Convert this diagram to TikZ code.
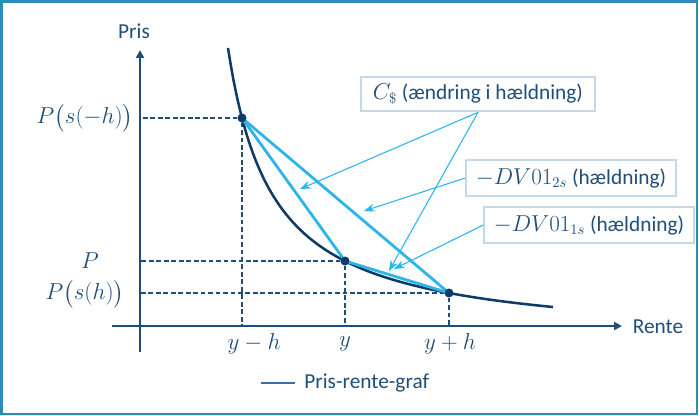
\documentclass[tikz,border=0pt]{standalone}
\usepackage{amsmath}
\usepackage{fontspec}
\setmainfont{Carlito}
\usetikzlibrary{arrows.meta,positioning,calc}
\definecolor{navy}{HTML}{1F4E79}
\definecolor{curv}{HTML}{0F3B68}
\definecolor{lblue}{HTML}{2BB5E8}
\definecolor{boxb}{HTML}{C5D8EA}
\definecolor{frm}{HTML}{2E8BB8}
\definecolor{legc}{HTML}{3F6F9F}
\tikzset{
  frm/.style={draw=frm,line width=2.2pt},
  axs/.style={draw=navy,line width=2.2pt,-{Triangle[length=6pt,width=6pt]}},
  gde/.style={draw=navy,line width=.9pt,dash pattern=on 3.6pt off 2pt},
  crv/.style={draw=curv,line width=1.9pt},
  crd/.style={draw=lblue,line width=2.1pt},
  ptr/.style={draw=lblue,line width=.8pt,-{Stealth[length=8pt,width=6pt]}},
  dot/.style={circle,fill=curv,inner sep=0pt,minimum size=6.5pt},
  lbl/.style={text=navy,font=\fontsize{16}{19}\selectfont},
  box/.style={lbl,draw=boxb,line width=1.5pt,fill=white,inner sep=3pt},
  leg/.style={draw=legc,line width=2pt},
}

\begin{document}
\begin{tikzpicture}[x=0.75pt,y=-0.75pt]
  \useasboundingbox (0,0) rectangle (700,416);
  \draw[frm] (1.5,1.5) rectangle (697,414);

  % axes
  \coordinate (yb) at (140,352);
  \coordinate (yt) at (140,50);
  \coordinate (xl) at (112,326);
  \coordinate (xr) at (622,326);
  \draw[axs] (yb) -- (yt);
  \draw[axs] (xl) -- (xr);
  \node[lbl] (pris)  at (134,31)  {Pris};
  \node[lbl] (rente) at (658,327) {Rente};

  \node[dot] (A) at (242,118) {};
  \node[dot] (B) at (345,261) {};
  \node[dot] (C) at (449,293) {};

  \draw[gde] (A) -- (A -| yb);
  \draw[gde] (B) -- (B -| yb);
  \draw[gde] (C) -- (C -| yb);
  \draw[gde] (A) -- (A |- xl);
  \draw[gde] (B) -- (B |- xl);
  \draw[gde] (C) -- (C |- xl);

  \draw[crv] plot[domain=228:553,samples=120] (\x,{342.8-13239/(\x-183.1)});
  \draw[crd] (A.center) -- (B.center) -- (C.center);
  \draw[crd] (A.center) -- (C.center);
  \node[dot] at (A) {};
  \node[dot] at (B) {};
  \node[dot] at (C) {};

  \node[lbl,anchor=east] (lA) at (138,118) {$P\bigl(s(-h)\bigr)$};
  \node[lbl]             (lB) at (90,261)  {$P$};
  \node[lbl,anchor=east] (lC) at (129,294) {$P\bigl(s(h)\bigr)$};
  \node[lbl] (xA) at (254,344) {$y-h$};
  \node[lbl] (xB) at (345,344) {$y$};
  \node[lbl] (xC) at (450,344) {$y+h$};

  \node[box,minimum width=175pt,minimum height=26pt] (cbox)  at (478,94)  {$C_{\$}$ (ændring i hældning)};
  \node[box,minimum width=157pt,minimum height=27pt] (d2box) at (571,178) {$-DV01_{2s}$ (hældning)};
  \node[box,minimum width=157pt,minimum height=27pt] (d1box) at (589,225) {$-DV01_{1s}$ (hældning)};

  \coordinate (tAB)  at (300,189);
  \coordinate (tBC)  at (389,271);
  \coordinate (tAC)  at (364,211);
  \coordinate (tBC2) at (394,269);
  \draw[ptr] (cbox.south) -- (tAB);
  \draw[ptr] (cbox.south) -- (tBC);
  \draw[ptr] (d2box.west) -- (tAC);
  \draw[ptr] (d1box.west) -- (tBC2);

  % legend
  \coordinate (lg1) at (261,383);
  \coordinate (lg2) at (295,383);
  \draw[leg] (lg1) -- (lg2);
  \node[lbl,right=3.5pt of lg2] (legt) {Pris-rente-graf};
\end{tikzpicture}
\end{document}
